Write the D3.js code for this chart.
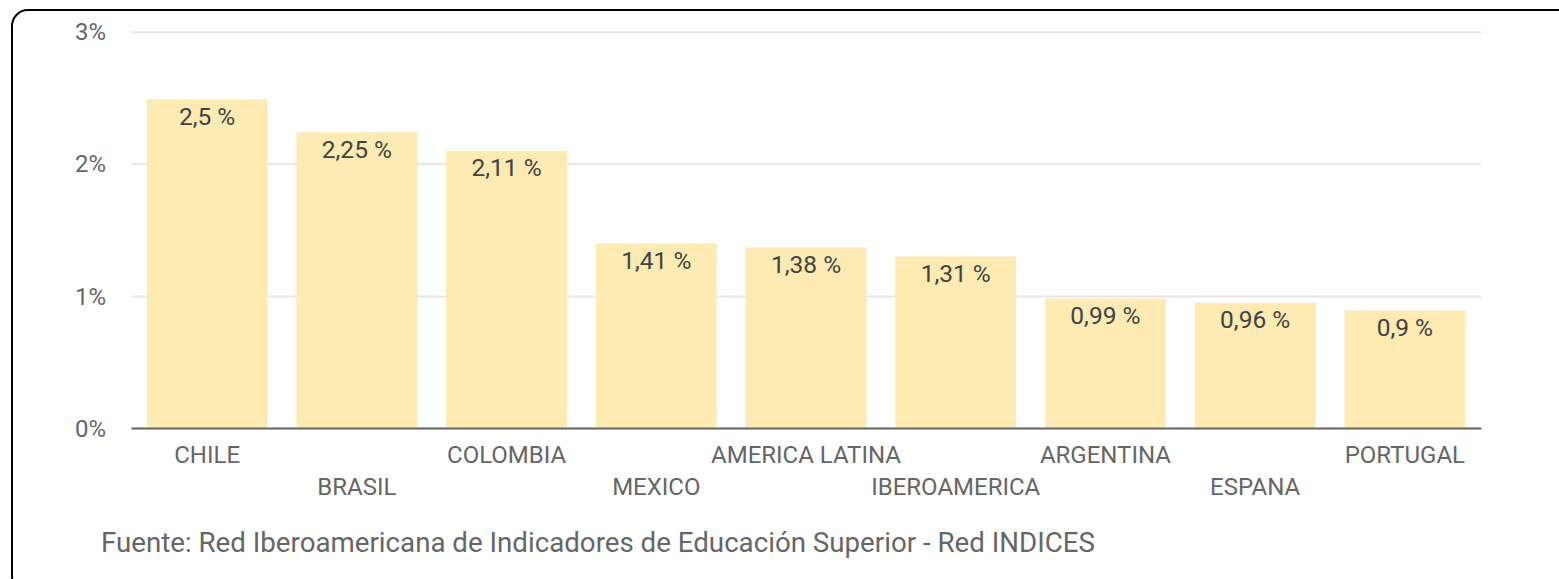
<!DOCTYPE html>
<html>
<head>
<meta charset="utf-8">
<script src="https://cdn.jsdelivr.net/npm/d3@7"></script>
<style>
  html, body { margin: 0; padding: 0; background: #fff; overflow: hidden; }
  svg { display: block; font-family: Roboto, "Noto Sans", sans-serif; }
</style>
</head>
<body>
<svg id="chart" width="1559" height="579"></svg>
<script>
var paises = ["CHILE", "BRASIL", "COLOMBIA", "MEXICO", "AMERICA LATINA", "IBEROAMERICA", "ARGENTINA", "ESPANA", "PORTUGAL"];
var valores = [2.5, 2.25, 2.11, 1.41, 1.38, 1.31, 0.99, 0.96, 0.9];
var ticksY = [0, 1, 2, 3];
var fuente = "Fuente: Red Iberoamericana de Indicadores de Educación Superior - Red INDICES";

var margin = {top: 31.7, left: 131, right: 78, bottom: 151};
var W = 1559, H = 579;
var width = W - margin.left - margin.right;
var height = H - margin.top - margin.bottom;

var svg = d3.select('#chart');

// marco redondeado
svg.append('rect')
  .attr('x', 12).attr('y', 10)
  .attr('width', 1562).attr('height', 582)
  .attr('rx', 16)
  .attr('fill', 'none')
  .attr('stroke', '#000')
  .attr('stroke-width', 2);

var g = svg.append('g')
  .attr('transform', `translate(${margin.left}, ${margin.top})`);

var x = d3.scaleBand()
  .domain(paises)
  .range([0, width])
  .paddingInner(0.193)
  .paddingOuter(0.105);

var y = d3.scaleLinear()
  .domain([0, 3])
  .range([height, 0]);

// grid + eje y
var yAxis = g.append('g')
  .call(d3.axisLeft(y).tickValues(ticksY).tickSize(-width).tickFormat(d => d + '%'));
yAxis.select('.domain').remove();
yAxis.selectAll('line').attr('stroke', '#e6e6e6').attr('stroke-width', 2);
yAxis.selectAll('text')
  .attr('x', -25)
  .attr('dy', '0.34em')
  .attr('fill', '#666')
  .style('font-size', '24px')
  .style('font-family', 'Roboto');

// barras
g.selectAll('.bar')
  .data(valores)
  .enter().append('rect')
  .attr('class', 'bar')
  .attr('x', (d, i) => x(paises[i]))
  .attr('y', d => y(d) + 1.5)
  .attr('width', x.bandwidth())
  .attr('height', d => height - y(d) - 1.5)
  .attr('fill', '#feeab3');

// etiquetas de valor
g.selectAll('.lbl')
  .data(valores)
  .enter().append('text')
  .attr('class', 'lbl')
  .attr('x', (d, i) => x(paises[i]) + x.bandwidth() / 2)
  .attr('y', d => y(d) + 27)
  .attr('text-anchor', 'middle')
  .attr('fill', '#424242')
  .style('font-size', '24.5px')
  .text(d => String(d).replace('.', ',') + ' %');

// eje x
var xAxis = g.append('g')
  .attr('transform', `translate(0, ${height})`)
  .call(d3.axisBottom(x).tickSize(0));
xAxis.select('.domain').attr('stroke', '#666').attr('stroke-width', 2);
xAxis.selectAll('text')
  .attr('y', (d, i) => i % 2 === 0 ? 35 : 67)
  .attr('dy', 0)
  .attr('fill', '#666')
  .style('font-size', '24px')
  .style('font-family', 'Roboto');

// fuente
svg.append('text')
  .attr('x', 101)
  .attr('y', 552)
  .attr('fill', '#666')
  .style('font-size', '27.7px')
  .text(fuente);
</script>
</body>
</html>
